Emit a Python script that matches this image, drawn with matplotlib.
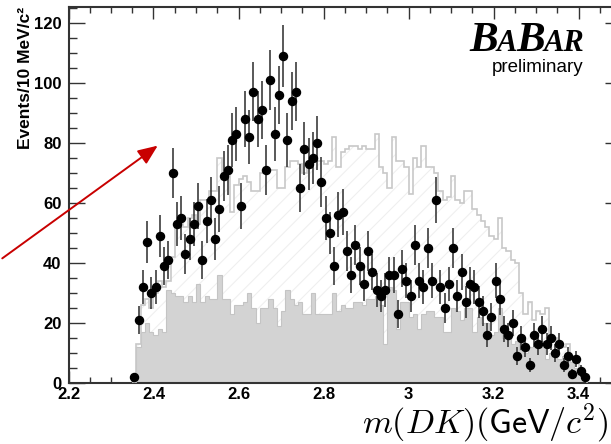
import numpy as np
import matplotlib
matplotlib.use("Agg")
import matplotlib.pyplot as plt
from matplotlib.ticker import FixedLocator, MultipleLocator
from matplotlib.transforms import IdentityTransform
from matplotlib.patches import FancyArrowPatch

plt.rcParams['mathtext.fontset'] = 'cm'
plt.rcParams['hatch.linewidth'] = 0.8

# ---- data (10 MeV bins starting at 2.35 GeV) ----
bin_lo = 2.35
bin_w = 0.01
data_counts = [2, 21, 32, 47, 30, 32, 49, 39, 41, 70,
               53, 55, 43, 48, 53, 59, 41, 54, 61, 48,
               58, 69, 71, 81, 83, 59, 88, 82, 97, 88,
               91, 71, 101, 83, 96, 109, 81, 94, 97, 65,
               78, 73, 75, 80, 67, 55, 50, 39, 56, 57,
               44, 36, 46, 39, 33, 44, 37, 31, 29, 31,
               36, 36, 23, 38, 34, 29, 46, 34, 32, 45,
               34, 61, 32, 25, 33, 45, 29, 37, 27, 33,
               32, 27, 24, 16, 22, 34, 28, 18, 16, 20,
               9, 15, 12, 6, 16, 13, 18, 13, 15, 10,
               13, 6, 9, 3, 8, 4, 2]
hatched_counts = [0, 13, 26, 28, 25, 30, 34, 32, 34, 42,
                  52, 53, 52, 55, 56, 53, 61, 61, 64, 64,
                  75, 70, 70, 57, 66, 68, 69, 67, 64, 64,
                  70, 70, 71, 71, 65, 65, 72, 74, 74, 73,
                  70, 73, 74, 74, 74, 73, 74, 82, 72, 77,
                  78, 79, 79, 78, 79, 78, 78, 83, 72, 70,
                  65, 82, 74, 74, 72, 63, 75, 72, 79, 72,
                  72, 70, 64, 61, 62, 69, 61, 60, 64, 64,
                  58, 56, 54, 52, 49, 48, 55, 45, 44, 41,
                  40, 30, 23, 27, 21, 24, 23, 25, 16, 15,
                  13, 12, 13, 9, 8, 4, 2]
gray_counts = [0, 12, 17, 20, 17, 16, 18, 17, 31, 30,
               29, 29, 27, 29, 27, 33, 27, 29, 28, 28,
               36, 28, 28, 23, 26, 26, 27, 30, 25, 20,
               25, 25, 28, 25, 19, 24, 31, 28, 26, 27,
               23, 23, 30, 23, 23, 23, 23, 30, 24, 26,
               25, 25, 27, 27, 26, 28, 28, 29, 26, 13,
               32, 31, 18, 27, 27, 22, 23, 18, 23, 24,
               24, 22, 22, 17, 17, 25, 24, 21, 25, 25,
               17, 22, 20, 20, 16, 17, 25, 15, 15, 13,
               14, 11, 10, 12, 12, 13, 14, 8, 10, 10,
               8, 9, 8, 7, 5, 4, 2]

x_ticks = [2.2, 2.4, 2.6, 2.8, 3.0, 3.2, 3.4]
x_tick_labels = ['2.2', '2.4', '2.6', '2.8', '3', '3.2', '3.4']
y_ticks = [0, 20, 40, 60, 80, 100, 120]

n = len(data_counts)
edges = bin_lo + bin_w * np.arange(n + 1)
centers = 0.5 * (edges[:-1] + edges[1:])
data = np.array(data_counts, dtype=float)
errors = np.sqrt(data)  # Poisson errors as drawn in the original

# ---- figure ----
W, H = 611, 444
fig = plt.figure(figsize=(W / 100, H / 100), dpi=100)
ax = fig.add_axes([68.5 / W, 61 / H, (621 - 68.5) / W, 376 / H])

ax.stairs(hatched_counts, edges, fill=True, facecolor='white',
          edgecolor='#efefef', hatch='//', linewidth=0, zorder=1)
ax.stairs(gray_counts, edges, fill=True, facecolor='#d3d3d3',
          edgecolor='#c4c4c4', linewidth=0.8, zorder=2)
ax.stairs(hatched_counts, edges, color='#c8c8c8', linewidth=1.2, zorder=3)

ax.errorbar(centers, data, yerr=errors, fmt='o', color='black',
            markersize=5.8, ecolor='#3c3c3c', elinewidth=1.2, capsize=0,
            zorder=5)

ax.set_xlim(2.2, 3.5)
ax.set_ylim(0, 125.3)

ax.xaxis.set_major_locator(FixedLocator(x_ticks))
ax.set_xticklabels(x_tick_labels)
ax.xaxis.set_minor_locator(MultipleLocator(0.05))
ax.yaxis.set_major_locator(FixedLocator(y_ticks))
ax.yaxis.set_minor_locator(MultipleLocator(5))

ax.tick_params(axis='both', which='both', direction='in', colors='#333333',
               labelcolor='black')
ax.tick_params(axis='x', which='major', length=8.6, width=1.0, top=True,
               bottom=True, pad=3)
ax.tick_params(axis='x', which='minor', length=4.3, width=1.0, top=True,
               bottom=True)
ax.tick_params(axis='y', which='major', length=11.5, width=1.0, left=True,
               right=True, pad=5)
ax.tick_params(axis='y', which='minor', length=5.8, width=1.0, left=True,
               right=True)
for lab in ax.get_xticklabels() + ax.get_yticklabels():
    lab.set_fontfamily('Liberation Sans')
    lab.set_fontweight('bold')
    lab.set_fontsize(12)
for sp in ax.spines.values():
    sp.set_color('#333333')
    sp.set_linewidth(1.5)

# y label
fig.text(26 / W, 437 / H, 'Events/10 MeV/c\u00b2', rotation=90, ha='center',
         va='top', fontfamily='Liberation Sans', fontweight='bold',
         fontsize=12.5)

# x label
fig.text(609 / W, 11 / H, r'$m(DK)(\mathsf{GeV}/c^2)$', ha='right',
         va='baseline', fontsize=24.5)

# BaBar logo
renderer = fig.canvas.get_renderer()
xpos = 469
base = H - 51
for s, fs in [('B', 31), ('A', 22), ('B', 31), ('AR', 22)]:
    t = fig.text(xpos, base, s, transform=IdentityTransform(), fontsize=fs,
                 fontfamily='Liberation Serif', fontweight='bold',
                 fontstyle='italic', ha='left', va='baseline')
    xpos = t.get_window_extent(renderer).x1 - 1
fig.text(583, H - 72, 'preliminary', transform=IdentityTransform(),
         fontsize=13.5, fontfamily='Liberation Sans', ha='right',
         va='baseline')

# red arrow
arrow = FancyArrowPatch((0, H - 260), (160, H - 144),
                        transform=IdentityTransform(),
                        arrowstyle='-|>,head_length=0.6,head_width=0.25',
                        mutation_scale=20, color='#c80000', linewidth=1.4)
fig.patches.append(arrow)

fig.savefig('out.png', dpi=100)
